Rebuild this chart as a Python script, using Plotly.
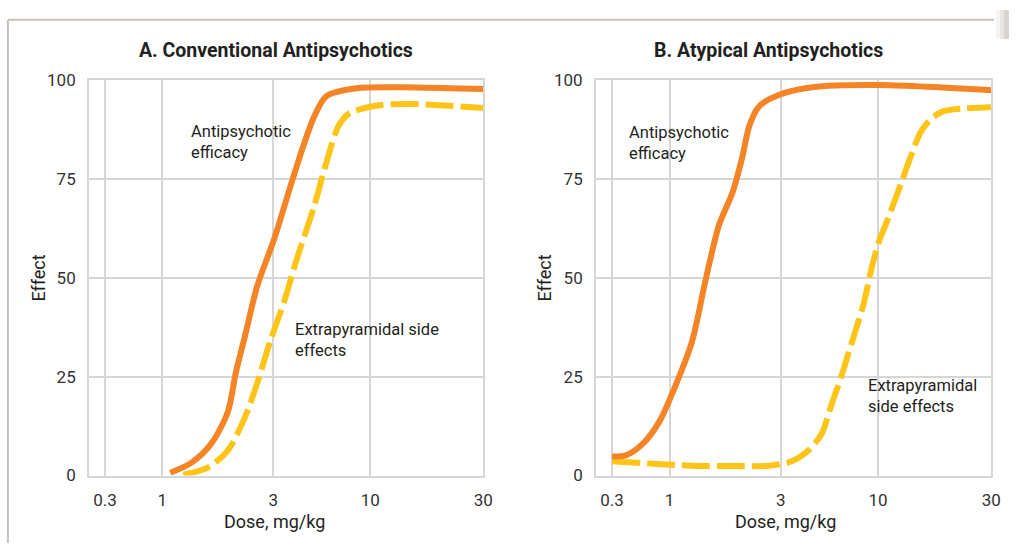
import numpy as np
import plotly.graph_objects as go

# Dose axis: labelled doses and where each label sits along the axis
TICK_DOSES = [0.3, 1, 3, 10, 30]
TICK_LABELS = ["0.3", "1", "3", "10", "30"]
TICK_POS = [16, 74, 186, 284, 398]
Y_TICKS = [0, 25, 50, 75, 100]

# Panel A: conventional antipsychotics
conv_eff_dose = [1.08, 1.33, 1.62, 1.91, 2.07, 2.26, 2.56, 3.04, 3.7, 4.4, 5.0, 5.8, 8.4, 15.6, 30]
conv_eff_val = [0.7, 3.2, 8, 16, 26, 35, 48, 60, 73, 84, 91, 96, 98, 98.2, 97.8]
conv_eps_dose = [1.23, 1.57, 1.91, 2.26, 2.56, 2.91, 3.43, 4.03, 4.97, 5.82, 6.75, 7.73, 10.9, 15.6, 30]
conv_eps_val = [0.2, 2, 6.3, 14.6, 23.4, 34, 44, 55, 68, 79.5, 88.5, 91.7, 93.7, 94, 93]

# Panel B: atypical antipsychotics
atyp_eff_dose = [0.3, 0.4, 0.57, 0.81, 1.06, 1.25, 1.42, 1.63, 1.86, 2.05, 2.2, 2.42, 2.94, 4.55, 10, 30]
atyp_eff_val = [4.8, 5.1, 8, 13.7, 22.7, 34, 48.8, 63.4, 71.5, 80.5, 88.5, 93.4, 96.3, 98.3, 98.8, 97.5]
atyp_eps_dose = [0.3, 0.7, 1.25, 1.91, 2.67, 3.43, 4.23, 4.97, 5.61, 6.35, 7.18, 8.42, 9.1, 10, 11,
                 12.5, 13.7, 15.1, 16.7, 18.9, 22.9, 30]
atyp_eps_val = [3.6, 3.0, 2.5, 2.4, 2.5, 3.6, 6.4, 10.5, 17.8, 25.1, 33.2, 43.9, 51.2, 58.5, 64.9,
                73.9, 80.5, 86.8, 90.2, 92.2, 92.9, 93.2]

ORANGE = "#F58426"
YELLOW = "#FFC418"
GRID = "#D6D6D6"
TEXT = "#231F20"
FRAME = "#C9C1BC"
FONT = "Roboto"

W, H = 1019, 553


def dose_pos(d):
    return np.interp(np.log10(d), np.log10(TICK_DOSES), TICK_POS)


def px(x):
    return x / W


def py(y):
    return 1 - y / H


fig = go.Figure()

panels = [
    ("x", "y", conv_eff_dose, conv_eff_val, conv_eps_dose, conv_eps_val),
    ("x2", "y2", atyp_eff_dose, atyp_eff_val, atyp_eps_dose, atyp_eps_val),
]
for xa, ya, ed, ev, sd, sv in panels:
    fig.add_trace(go.Scatter(
        x=dose_pos(sd), y=sv, xaxis=xa, yaxis=ya, mode="lines",
        line=dict(color=YELLOW, width=6, dash="28px,7px", shape="spline", smoothing=0.8),
        showlegend=False, hoverinfo="skip"))
    fig.add_trace(go.Scatter(
        x=dose_pos(ed), y=ev, xaxis=xa, yaxis=ya, mode="lines",
        line=dict(color=ORANGE, width=6, shape="spline", smoothing=0.8),
        showlegend=False, hoverinfo="skip"))

xaxis_common = dict(
    range=[0, TICK_POS[-1]], tickmode="array", tickvals=TICK_POS, ticktext=TICK_LABELS,
    showgrid=True, gridcolor=GRID, gridwidth=2, zeroline=False,
    showline=True, linecolor=GRID, linewidth=2, mirror=True,
    ticks="", ticklabelstandoff=8,
    tickfont=dict(family=FONT, size=17, color="#333333"), fixedrange=True,
)
yaxis_common = dict(
    range=[0, 100], tickmode="array", tickvals=Y_TICKS,
    showgrid=True, gridcolor=GRID, gridwidth=2, zeroline=False,
    showline=True, linecolor=GRID, linewidth=2, mirror=True,
    ticks="", ticklabelstandoff=8,
    tickfont=dict(family=FONT, size=17, color="#333333"), fixedrange=True,
)

fig.update_layout(
    width=W, height=H,
    margin=dict(l=0, r=0, t=0, b=0),
    paper_bgcolor="white", plot_bgcolor="white",
    xaxis=dict(domain=[px(90), px(488)], anchor="y", **xaxis_common),
    yaxis=dict(domain=[py(483), py(73)], anchor="x", **yaxis_common),
    xaxis2=dict(domain=[px(602), px(1001)], anchor="y2", **xaxis_common),
    yaxis2=dict(domain=[py(483), py(73)], anchor="x2", **yaxis_common),
)

annotations = [
    # panel titles
    dict(x=px(279), y=py(42), text="<b>A. Conventional Antipsychotics</b>", size=19.5),
    dict(x=px(776), y=py(42), text="<b>B. Atypical Antipsychotics</b>", size=19.5),
    # axis titles
    dict(x=px(277), y=py(531), text="Dose, mg/kg", size=18),
    dict(x=px(793), y=py(531), text="Dose, mg/kg", size=18),
    dict(x=px(39), y=py(278), text="Effect", size=18, angle=-90),
    dict(x=px(550), y=py(278), text="Effect", size=18, angle=-90),
    # curve labels
    dict(x=px(191), y=py(137), text="Antipsychotic<br>efficacy", size=16.5, left=True),
    dict(x=px(296), y=py(342), text="Extrapyramidal side<br>effects", size=16.5, left=True),
    dict(x=px(633), y=py(138), text="Antipsychotic<br>efficacy", size=16.5, left=True),
    dict(x=px(875), y=py(401), text="Extrapyramidal<br>side effects", size=16.5, left=True),
]
for a in annotations:
    fig.add_annotation(
        x=a["x"], y=a["y"], xref="paper", yref="paper", text=a["text"],
        showarrow=False, textangle=a.get("angle", 0),
        xanchor="left" if a.get("left") else "center", yanchor="middle",
        align="left" if a.get("left") else "center",
        font=dict(family=FONT, size=a["size"], color=TEXT),
    )

# outer frame lines along the top and left
fig.add_shape(type="line", xref="paper", yref="paper", x0=px(8), x1=px(1004), y0=py(10), y1=py(10),
              line=dict(color=FRAME, width=2))
fig.add_shape(type="line", xref="paper", yref="paper", x0=px(8), x1=px(8), y0=py(10), y1=0,
              line=dict(color=FRAME, width=2))
# soft shadow at the top right corner of the frame
for i, op in enumerate([0.12, 0.22, 0.32]):
    fig.add_shape(type="rect", xref="paper", yref="paper",
                  x0=px(1006 + 4 * i), x1=px(1019), y0=py(30), y1=1,
                  line=dict(width=0), fillcolor="#B8B0AA", opacity=op, layer="above")

fig.write_html("out.html")
